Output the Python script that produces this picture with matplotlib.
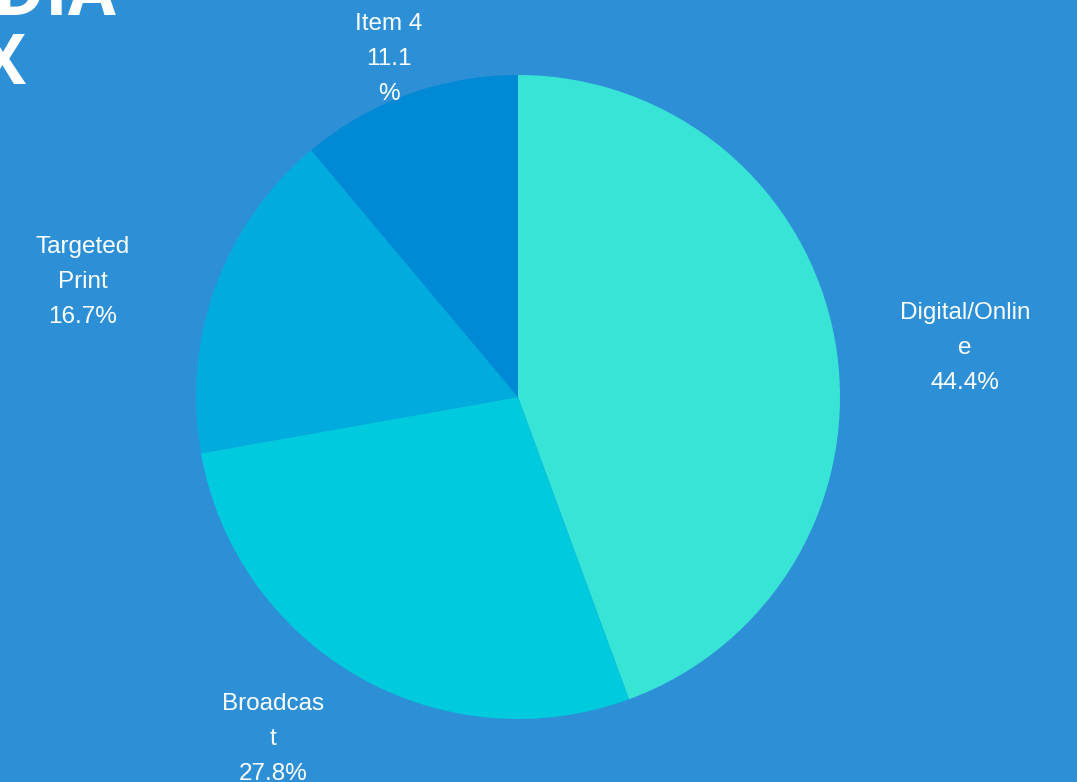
import numpy as np
import matplotlib
matplotlib.use("Agg")
import matplotlib.pyplot as plt

# Chart data
labels = ["Digital/Onlin\ne", "Broadcas\nt", "Targeted\nPrint", "Item 4"]
shares = [44.4, 27.8, 16.7, 11.1]
pct_text = ["44.4%", "27.8%", "16.7%", "11.1\n%"]
colors = ["#38E4D6", "#00CADD", "#00ACDE", "#0089D4"]

bg = "#2D90D6"
W, H = 1077, 782
cx, cy, r = 518, 397, 322

fig = plt.figure(figsize=(W / 100, H / 100), dpi=100, facecolor=bg)
ax = fig.add_axes([0, 0, 1, 1])
ax.set_facecolor(bg)

wedges, _ = ax.pie(shares, colors=colors, startangle=90, counterclock=False,
                   radius=1, center=(0, 0), wedgeprops=dict(linewidth=0))
# pie resets the limits, so set them afterwards
ax.set_xlim(-cx / r, (W - cx) / r)
ax.set_ylim(-(H - cy) / r, cy / r)
ax.axis("off")

# labels outside the slices: distance and small angle nudge per slice
label_dist = [1.397, 1.306, 1.397, 1.123]
angle_nudge = [-3.8, -5.8, 5.2, 0.9]
for w, lab, pct, d, da in zip(wedges, labels, pct_text, label_dist, angle_nudge):
    mid = np.deg2rad((w.theta1 + w.theta2) / 2 + da)
    x, y = d * np.cos(mid), d * np.sin(mid)
    ax.text(x, y, lab + "\n" + pct, ha="center", va="center", color="white",
            fontsize=17.5, family="Liberation Sans", linespacing=1.76)

# title, partly off the left edge
fig.text(-110 / W, 1 - 15 / H, "MEDIA", color="white", fontsize=50,
         fontweight="bold", family="Open Sans", va="baseline", ha="left")
fig.text(-108 / W, 1 - 84 / H, "MIX", color="white", fontsize=50,
         fontweight="bold", family="Open Sans", va="baseline", ha="left")

fig.savefig("out.png", dpi=100, facecolor=bg)
